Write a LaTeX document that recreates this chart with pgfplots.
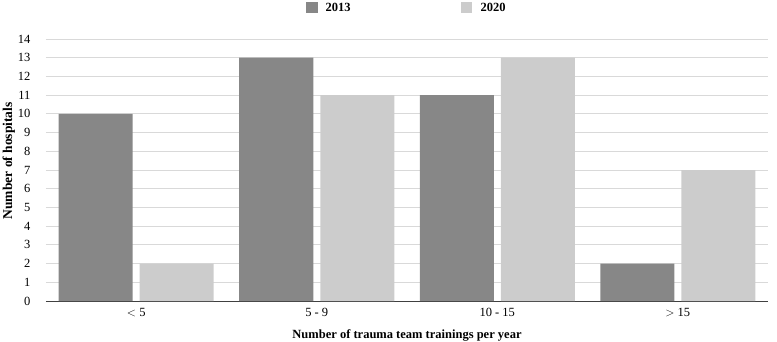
\documentclass[border=0pt]{standalone}
\usepackage{pgfplots}
\pgfplotsset{compat=1.18}
\usepackage{fontspec}
\setmainfont{Liberation Serif}
\definecolor{darkbar}{HTML}{878787}
\definecolor{lightbar}{HTML}{CCCCCC}
\definecolor{gridc}{HTML}{D9D9D9}
\definecolor{axisc}{HTML}{404040}
\begin{document}
\begin{tikzpicture}
\useasboundingbox (-46pt,-40pt) rectangle (731pt,301pt);
\begin{axis}[
  scale only axis,
  width=722pt, height=262pt,
  ybar=7pt, bar width=74pt,
  xmin=-0.5, xmax=3.5,
  ymin=0, ymax=14,
  xtick={0,1,2,3},
  xticklabels={{$<$ 5},{5 - 9},{10 - 15},{$>$ 15}},
  ytick={0,1,...,14},
  ymajorgrids,
  grid style={gridc, line width=0.9pt},
  axis x line*=bottom,
  axis y line*=left,
  y axis line style={draw=none},
  x axis line style={axisc, line width=1pt, -},
  major tick length=0pt,
  tick style={draw=none},
  ticklabel style={font=\fontsize{12.5}{14}\selectfont, text=black},
  /pgf/number format/assume math mode=true,
  yticklabel style={xshift=-12pt},
  xticklabel style={yshift=-4pt},
  xlabel={\textbf{Number of trauma team trainings per year}},
  ylabel={\textbf{Number of hospitals}},
  xlabel style={font=\fontsize{12.5}{14}\selectfont, yshift=-6pt},
  ylabel style={font=\fontsize{13.5}{16}\selectfont, at={(ticklabel cs:0.535)}, yshift=-4pt},
  legend style={at={(0.5,1.0)}, yshift=40pt, anchor=north, draw=none,
    legend columns=2, font=\fontsize{12.5}{14}\selectfont\bfseries,
    /tikz/every even column/.append style={column sep=109pt}},
  legend image code/.code={\fill[#1] (0pt,-5pt) rectangle (11pt,6pt); \path (17pt,0pt);},
]
\addplot[fill=darkbar, draw=none] coordinates {(0,10) (1,13) (2,11) (3,2)};
\addplot[fill=lightbar, draw=none] coordinates {(0,2) (1,11) (2,13) (3,7)};
\legend{2013,2020}
\end{axis}
\end{tikzpicture}
\end{document}
